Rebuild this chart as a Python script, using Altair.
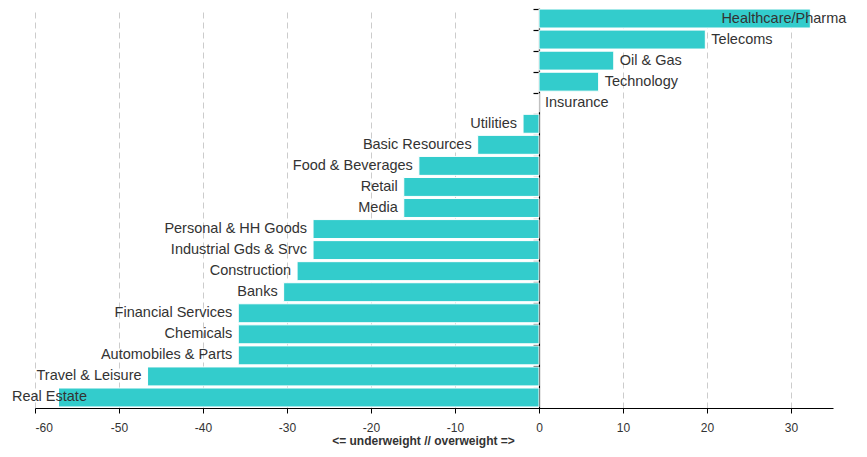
import altair as alt
import pandas as pd

sectors = [
    "Healthcare/Pharma", "Telecoms", "Oil & Gas", "Technology", "Insurance",
    "Utilities", "Basic Resources", "Food & Beverages", "Retail", "Media",
    "Personal & HH Goods", "Industrial Gds & Srvc", "Construction", "Banks",
    "Financial Services", "Chemicals", "Automobiles & Parts", "Travel & Leisure",
    "Real Estate",
]
values = [
    32.3, 19.8, 8.9, 7.1, 0.0,
    -1.9, -7.3, -14.3, -16.1, -16.1,
    -26.9, -26.9, -28.8, -30.4,
    -35.8, -35.8, -35.8, -46.6,
    -57.2,
]
x_ticks = [-60, -50, -40, -30, -20, -10, 0, 10, 20, 30]
x_domain = [-60, 35]
label_bounds = [-53.1, 21.0]
x_title = "<= underweight // overweight =>"

df = pd.DataFrame({"sector": sectors, "value": values})

W, H = 798, 400
zero_offset = -W * (0 - x_domain[0]) / (x_domain[1] - x_domain[0])
FONT = "Liberation Sans"
BAR = "#33CCCC"
TXT = "#333333"

y_enc = alt.Y(
    "sector:N",
    sort=sectors,
    scale=alt.Scale(paddingInner=0.1, paddingOuter=0.05),
    axis=alt.Axis(
        orient="left", offset=zero_offset, labels=False, title=None,
        domainColor="black", tickColor="black", tickSize=6, bandPosition=0,
        grid=False, domainWidth=1.2, tickWidth=1.2,
    ),
)
x_scale = alt.Scale(domain=x_domain, nice=False, zero=False)

bars = alt.Chart(df).mark_bar(color=BAR, stroke="white", strokeWidth=1).encode(
    y=y_enc,
    x=alt.X(
        "value:Q", scale=x_scale,
        axis=alt.Axis(
            values=x_ticks, grid=True, gridDash=[6, 4], gridColor="#cccccc",
            domainColor="black", tickColor="black", tickSize=5,
            labelExpr="'' + datum.value",
            labelFont=FONT, labelFontSize=12, labelColor=TXT, labelPadding=9,
            title=x_title, titleFont=FONT, titleFontSize=12,
            titleFontWeight="bold", titleColor=TXT, titlePadding=2,
            titleX=388,
        ),
    ),
)

lab = alt.Chart(df).transform_calculate(
    lx=f"clamp(datum.value, {label_bounds[0]}, {label_bounds[1]})"
)

neg_labels = lab.transform_filter("datum.value < 0").mark_text(
    align="right", baseline="middle", dx=-6, font=FONT, fontSize=14.5, color=TXT
).encode(y=alt.Y("sector:N", sort=sectors), x=alt.X("lx:Q", scale=x_scale), text="sector:N")

pos_labels = lab.transform_filter("datum.value >= 0").mark_text(
    align="left", baseline="middle", dx=6, font=FONT, fontSize=14.5, color=TXT
).encode(y=alt.Y("sector:N", sort=sectors), x=alt.X("lx:Q", scale=x_scale), text="sector:N")

chart = alt.layer(bars, neg_labels, pos_labels).properties(
    width=W, height=H,
    autosize=alt.AutoSizeParams(type="none"),
    padding={"left": 27, "top": 0, "right": 26, "bottom": 40},
).configure_view(stroke=None)

chart.save("out.html", embed_options={"renderer": "svg", "actions": False})
